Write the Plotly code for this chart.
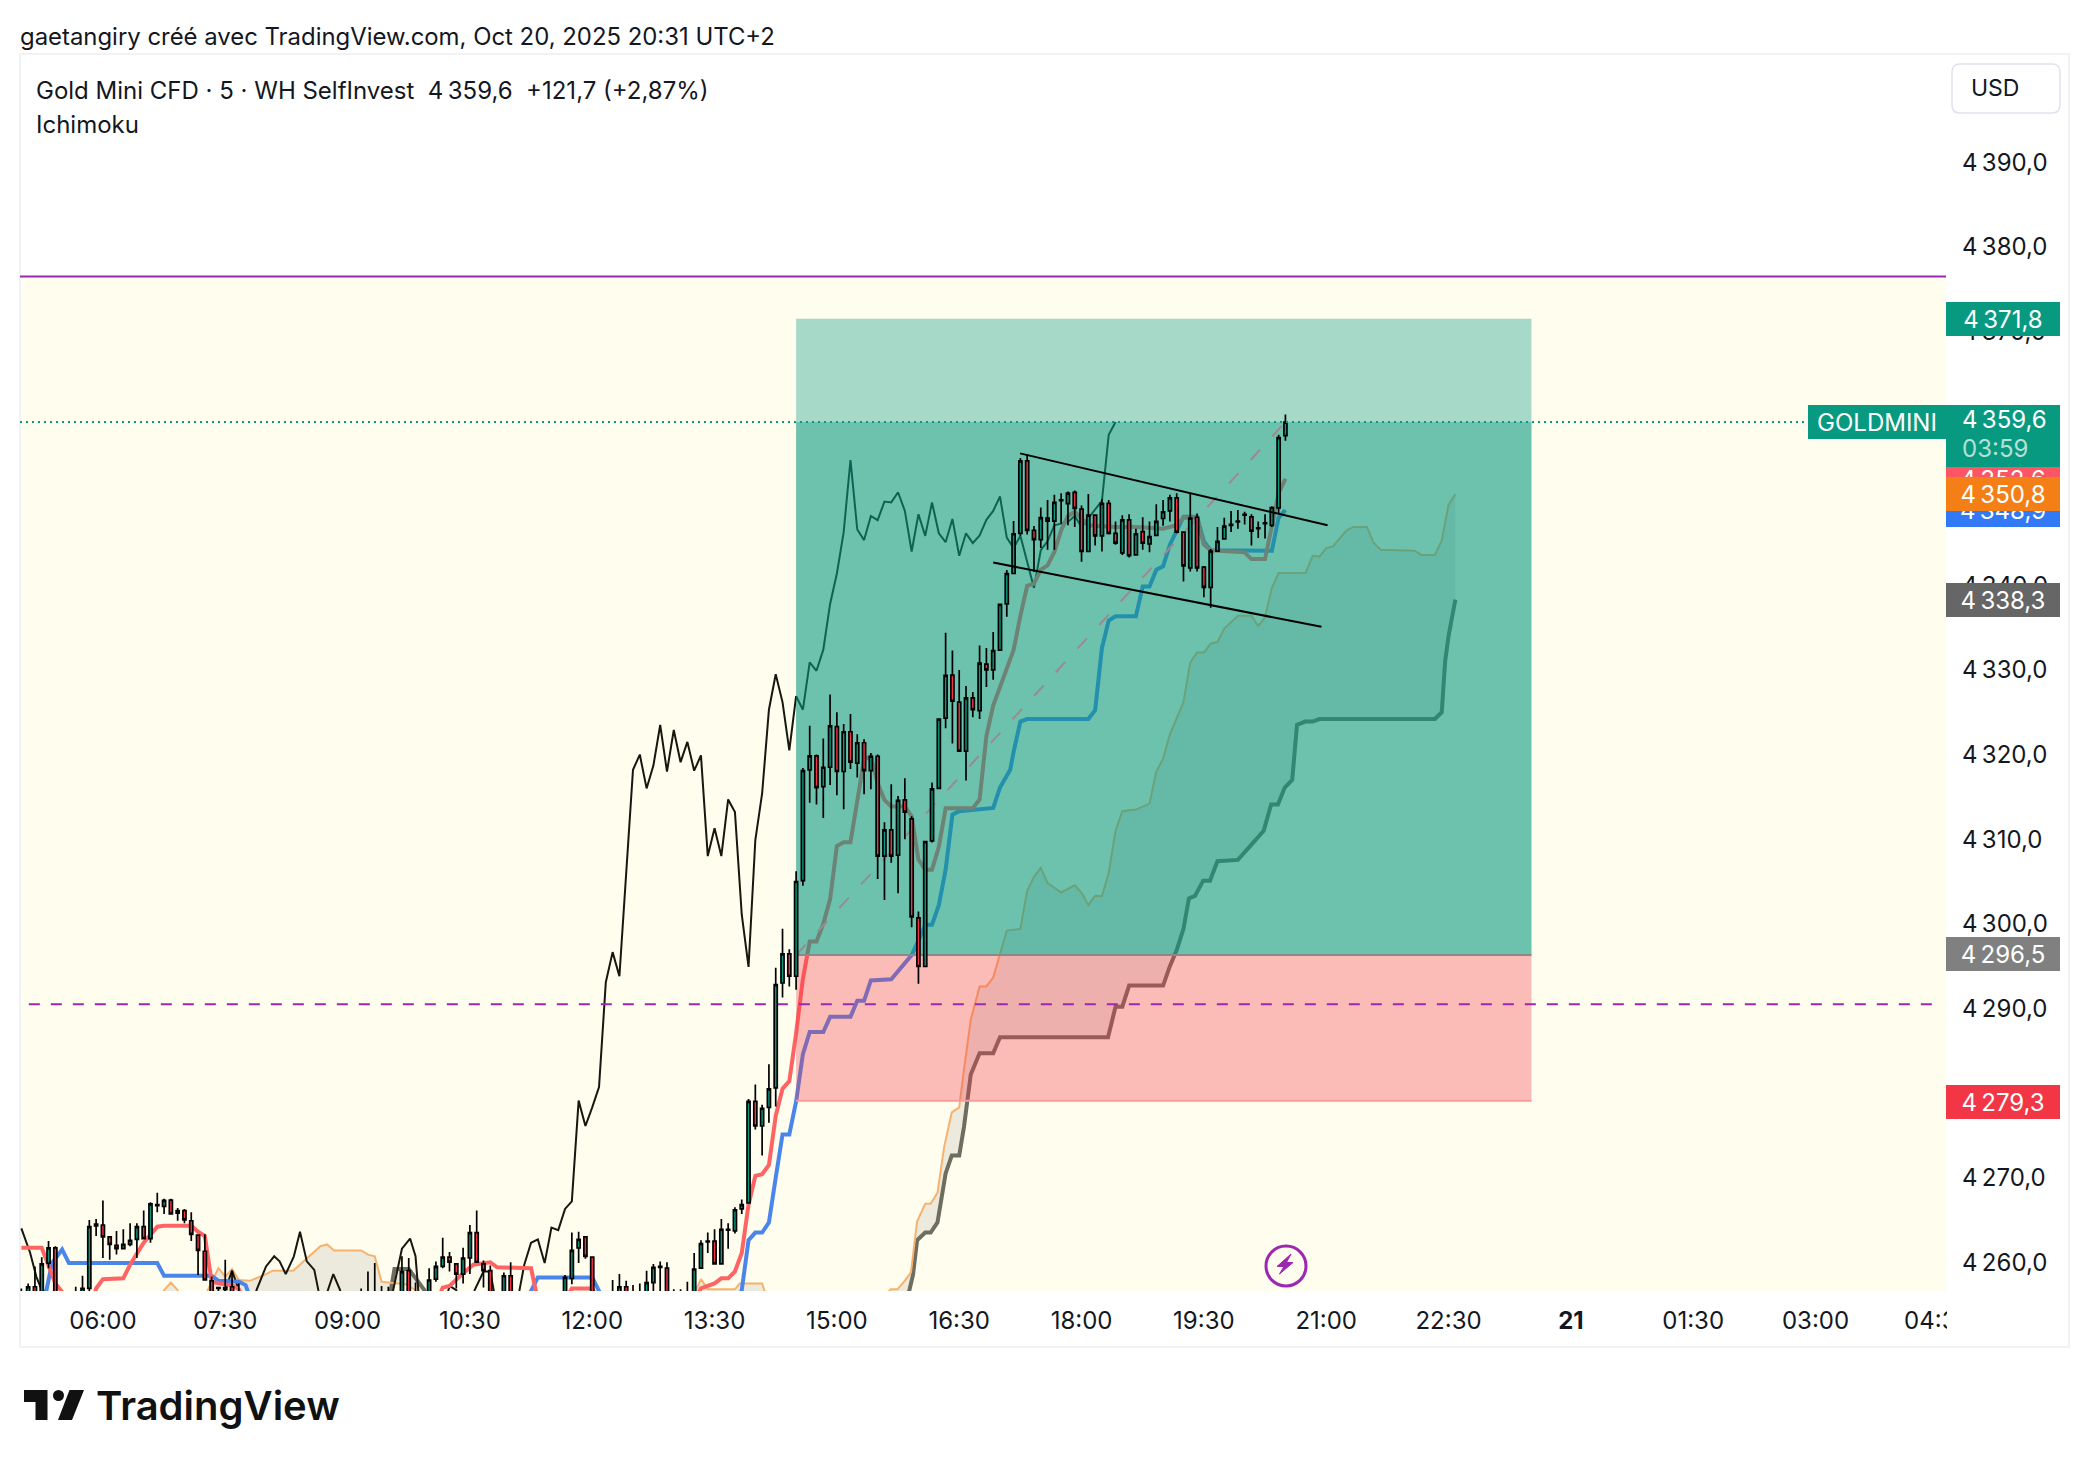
import pandas as pd
import plotly.graph_objects as go

BASE = pd.Timestamp("2025-10-20 06:00")
def t(i):
    return BASE + pd.to_timedelta(i * 5, "min")

first_bar = -12
opens = [4255.5,4254.0,4257.1,4254.0,4259.9,4261.7,4254.5,4255.0,4255.5,4256.0,4256.9,4264.3,
 4264.4,4263.0,4262.0,4261.6,4262.1,4262.7,4264.2,4262.8,4266.7,4266.6,
 4267.35,4265.8,4266.1,4264.9,4263.2,4261.3,4257.8,4256.9,4256.8,4257.1,
 4256.0,4255.0,4254.5,4254.0,4253.5,4254.2,4254.8,4254.3,4253.8,4254.5,
 4255.0,4254.4,4254.0,4254.6,4255.1,4254.6,4255.0,4254.8,4255.2,4255.6,
 4255.2,4255.7,4255.3,4255.8,4255.0,4259.0,4255.0,4255.6,4256.0,4258.0,
 4259.5,4260.6,4259.8,4258.6,4260.5,4263.5,4259.8,4259.0,4255.5,4255.0,
 4258.4,4255.0,4254.5,4254.0,4254.6,4255.0,4254.5,4255.1,4255.0,4258.1,
 4261.7,4263.0,4260.6,4255.5,4255.0,4255.0,4255.0,4257.1,4255.0,4255.5,
 4255.0,4257.6,4259.4,4259.3,4255.5,4255.0,4255.4,4256.0,4259.3,4262.4,
 4262.5,4259.8,4263.8,4263.7,4266.3,4267.0,4279.0,4276.1,4278.3,4280.6,
 4293.0,4296.45,4293.8,4305.1,4318.2,4319.85,4316.2,4318.5,4323.3,4318.0,
 4322.7,4319.0,4321.4,4318.1,4319.8,4308.0,4311.1,4308.1,4314.65,4312.4,
 4300.7,4294.95,4309.8,4316.0,4324.3,4329.4,4326.2,4320.4,4326.7,4325.2,
 4330.7,4330.0,4332.35,4337.8,4341.4,4346.15,4354.7,4346.5,4345.4,4347.95,
 4347.6,4350.0,4349.65,4351.0,4349.0,4344.0,4348.3,4345.85,4349.7,4346.15,
 4343.85,4347.75,4343.6,4346.35,4344.9,4345.9,4347.9,4348.8,4350.35,4346.3,
 4342.05,4348.05,4342.15,4339.75,4344.05,4345.5,4347.1,4347.5,4348.3,4348.1,
 4346.7,4347.3,4347.1,4349.15,4357.7]
highs = [4256.9,4257.5,4259.5,4260.6,4262.5,4261.9,4256.0,4256.4,4257.1,4258.4,4265.0,4265.1,
 4267.3,4263.1,4263.7,4263.9,4264.6,4264.6,4266.1,4267.1,4268.2,4267.5,
 4267.5,4266.4,4266.3,4265.9,4263.3,4263.3,4258.3,4257.1,4260.3,4259.0,
 4257.5,4255.9,4255.6,4255.2,4254.8,4255.4,4255.8,4255.5,4255.0,4255.7,
 4256.0,4255.6,4255.2,4255.9,4256.2,4255.7,4256.0,4256.1,4256.9,4258.9,
 4259.9,4257.2,4257.1,4256.5,4260.7,4260.5,4257.6,4256.4,4259.3,4260.1,
 4262.9,4261.2,4259.9,4261.7,4264.4,4266.1,4260.2,4259.6,4256.4,4258.8,
 4260.0,4256.0,4255.6,4255.4,4255.8,4256.1,4255.7,4256.3,4258.5,4263.5,
 4263.6,4263.1,4260.7,4256.3,4256.0,4257.9,4258.6,4257.8,4257.3,4257.5,
 4259.0,4259.8,4260.1,4260.0,4256.8,4256.8,4257.7,4261.1,4262.6,4263.5,
 4263.9,4265.1,4264.6,4266.5,4267.4,4279.3,4281.0,4278.6,4283.4,4294.8,
 4299.4,4297.0,4306.2,4318.4,4323.4,4320.0,4321.9,4327.1,4325.0,4323.6,
 4324.8,4322.4,4321.8,4320.2,4320.0,4312.0,4316.5,4315.1,4317.2,4312.7,
 4301.45,4309.7,4316.7,4324.2,4334.4,4332.3,4330.0,4328.1,4327.4,4332.9,
 4332.6,4334.5,4337.75,4341.8,4347.6,4355.05,4355.5,4347.0,4349.2,4350.1,
 4350.7,4350.9,4351.1,4351.2,4349.45,4350.8,4348.3,4350.2,4350.1,4347.55,
 4348.3,4348.4,4346.7,4348.05,4347.55,4349.6,4350.1,4350.7,4350.9,4346.4,
 4350.8,4348.5,4342.3,4344.3,4346.9,4348.0,4348.8,4348.9,4348.7,4348.4,
 4347.55,4348.4,4349.35,4357.8,4360.2]
lows = [4254.0,4253.0,4253.0,4253.5,4259.3,4254.0,4253.0,4253.5,4254.0,4255.0,4256.5,4263.1,
 4260.5,4260.3,4260.9,4261.6,4261.9,4260.5,4262.7,4262.3,4265.9,4265.7,
 4265.7,4264.9,4264.6,4262.5,4258.5,4257.9,4255.0,4255.0,4255.0,4255.0,
 4254.0,4253.5,4253.2,4252.8,4252.5,4253.4,4253.8,4253.2,4252.7,4253.6,
 4254.0,4253.4,4253.0,4253.8,4254.2,4253.6,4254.1,4254.0,4254.4,4254.8,
 4254.5,4254.8,4254.5,4254.9,4254.5,4254.6,4254.2,4254.8,4255.2,4257.7,
 4259.3,4258.9,4256.9,4257.5,4258.6,4259.9,4257.0,4254.0,4254.4,4254.2,
 4254.0,4254.0,4253.5,4253.0,4253.6,4254.0,4253.4,4254.2,4254.0,4257.4,
 4259.9,4260.4,4254.5,4254.5,4254.0,4254.3,4254.5,4254.5,4254.2,4254.5,
 4254.4,4255.5,4256.0,4254.5,4254.5,4254.2,4254.6,4255.0,4259.2,4261.1,
 4259.8,4259.8,4261.6,4263.4,4265.7,4267.0,4275.7,4272.6,4276.5,4278.4,
 4291.3,4292.6,4292.2,4304.5,4314.3,4314.1,4312.5,4316.4,4315.2,4313.55,
 4318.3,4317.3,4315.3,4315.9,4305.3,4302.8,4307.2,4303.6,4310.0,4299.6,
 4292.9,4294.95,4309.6,4316.0,4323.1,4321.3,4320.3,4316.95,4324.4,4324.2,
 4328.0,4328.85,4332.35,4336.3,4341.4,4345.85,4346.0,4341.6,4344.4,4344.2,
 4344.2,4347.3,4347.1,4346.9,4342.8,4344.0,4344.7,4344.0,4346.0,4344.8,
 4343.6,4343.3,4343.5,4344.2,4343.9,4345.85,4347.05,4347.55,4346.15,4340.45,
 4341.65,4341.65,4338.6,4337.35,4344.0,4345.5,4346.3,4346.7,4347.2,4344.7,
 4345.6,4345.55,4346.9,4348.5,4357.1]
closes = [4255.0,4257.1,4254.5,4259.8,4261.7,4255.5,4255.0,4255.5,4256.0,4256.9,4264.2,4264.5,
 4263.0,4262.1,4261.6,4262.1,4262.6,4264.2,4262.8,4266.9,4266.8,4267.3,
 4265.7,4266.1,4265.0,4263.3,4261.4,4257.9,4255.5,4257.0,4257.0,4256.0,
 4255.5,4254.5,4254.0,4253.5,4254.2,4254.8,4254.3,4253.8,4254.5,4255.0,
 4254.4,4254.0,4254.6,4255.1,4254.6,4255.0,4254.8,4255.2,4255.6,4255.2,
 4255.7,4255.3,4255.8,4255.4,4258.9,4255.0,4255.6,4255.9,4257.9,4259.5,
 4260.6,4260.0,4258.6,4260.5,4263.5,4260.0,4259.0,4255.5,4255.0,4258.4,
 4255.0,4254.5,4254.0,4254.6,4255.0,4254.5,4255.1,4255.0,4258.2,4261.4,
 4262.7,4260.7,4255.5,4255.0,4255.4,4255.5,4257.1,4255.0,4255.5,4255.0,
 4257.6,4259.4,4259.5,4255.5,4255.0,4255.4,4256.0,4259.2,4262.2,4262.5,
 4259.8,4263.9,4263.9,4266.2,4266.8,4279.0,4276.1,4278.2,4280.5,4292.8,
 4296.45,4293.8,4305.0,4318.1,4319.85,4316.1,4318.5,4323.4,4318.0,4322.7,
 4319.1,4321.4,4318.1,4319.8,4308.0,4311.1,4308.0,4314.6,4313.2,4300.8,
 4294.95,4309.7,4315.95,4324.2,4329.35,4326.3,4320.4,4326.7,4325.3,4330.8,
 4330.0,4332.3,4337.75,4341.4,4346.1,4354.7,4346.5,4345.4,4348.0,4347.6,
 4349.8,4350.1,4350.9,4349.1,4344.0,4348.3,4345.85,4349.7,4346.15,4345.0,
 4347.75,4343.5,4346.1,4345.0,4345.75,4347.55,4348.7,4350.35,4346.3,4342.3,
 4347.95,4342.05,4339.75,4344.05,4345.2,4347.0,4347.2,4347.6,4348.4,4346.4,
 4346.8,4347.4,4349.2,4357.45,4359.3]
bar_idx = [first_bar + k for k in range(len(opens))]

tenkan_idx = [-12,-9,-8,-7,-5,-1.5,-1,0,3,4,6,8,9,13,14,15,16,17,19,20,21,49,50,51,53,54.5,57,58,63,64,68,69,72,73,87,88,90,91,92,93,94,95,96,97,98,99,100,101,102,103,104,105,106,107,108,109,110,111,112,113,114,115,116,118,119,120,121,122,123,124,128,129,130,131,132,134,135,136,137,138,139,140,141,142,143,145,149,152,156,158,159,161,162,163,168,169,171,172,173,174]
tenkan_val = [4261.7,4261.7,4259.6,4257.5,4255.5,4255.5,4256.9,4258.0,4258.1,4259.7,4262.3,4264.2,4264.3,4264.3,4263.6,4263.1,4257.7,4257.5,4257.3,4256.8,4255,4255,4257,4257.2,4258.7,4259.7,4260,4259.4,4259.3,4255.5,4255.5,4256.9,4256.9,4255.5,4255.5,4256.9,4257.5,4258.1,4258.1,4258.9,4261.1,4266.8,4270.2,4270.4,4271.5,4277.3,4280.5,4281.4,4287.1,4293.5,4297.9,4297.9,4300,4302.9,4309.2,4309.65,4309.65,4314.65,4319.4,4319.8,4316.6,4314.65,4313.85,4313.85,4312.7,4307.6,4306.4,4306.4,4309.1,4313.65,4313.65,4314.7,4322.2,4325.8,4328.1,4332.35,4336.4,4339.95,4340.2,4341.85,4342.35,4343.95,4346.5,4348.2,4348.7,4347.1,4346.9,4346.9,4346.7,4347.1,4348,4348,4344.8,4344.15,4343.9,4343.1,4343.1,4346.9,4350.9,4352.6]

kijun_idx = [-12,-8.3,-7.5,-6,-5,8,9,16,17,20,21,22,62,63,64,72,73,74,93,94,95,96,97,98,99,100,101,102,103,104,106,107,110,111,112,113,116,119,120,121,122,123,124,125,126,128,131,132,133.5,134,135,136,145,146,147,148,149,152,153,154,155,156,157,159,161,162,163,172,173,174]
kijun_val = [4254,4256.7,4259.9,4261.5,4259.9,4259.9,4258.4,4258.4,4257.8,4257.7,4257.3,4255,4255,4256.7,4258.2,4258.2,4256.7,4255,4255,4256.7,4262.6,4263.5,4263.5,4264.7,4270,4275.1,4275.1,4279,4284.6,4287.2,4287.2,4289,4289,4290.9,4290.9,4293.3,4293.45,4296.3,4298,4299.9,4299.9,4302.2,4306.4,4312.9,4313.3,4313.5,4313.7,4316.1,4318.2,4320.3,4323.9,4324.2,4324.2,4325.25,4332.6,4335.85,4336.35,4336.35,4339.85,4339.85,4341.85,4342.25,4344.8,4348.1,4348.1,4345.2,4344.15,4344.1,4348,4348.9]

span_a_idx = [-12,8.5,9,10,11,12,15,16,17,18,19,20,21.6,23.5,25,28,30,32,33,34,38,39,40,41,42,44.5,46,47,86,87.3,88,89,93,93.7,97,98,114,115.9,116.9,117.9,118.9,119.8,121,121.8,122.8,123.8,124.9,126,126.7,127.7,129,130,131,132,133,135,136,137,138,139,141,143,144,145,146,147,148,149,150,152,154,155,156,157,159,160,161,162,163,164,165,167,169,170,171,172,173,177,178,179,180,181,183,184,186,187,188,193,194,196,197,198,199]
span_a_val = [4254,4254,4256.7,4257.6,4256.7,4254.5,4256,4257.7,4259.3,4258.3,4259.2,4257.9,4257.8,4258.4,4259,4259,4260.5,4261.9,4262.1,4261.4,4261.4,4260.9,4260.7,4257.7,4257.6,4257.4,4256.7,4255,4255,4256.8,4258,4256.8,4256.8,4257.5,4257.5,4255,4255,4256.8,4256.8,4257.7,4258.8,4264.8,4266.9,4266.9,4268.2,4273.7,4277.7,4278.3,4282.75,4288.65,4292.6,4292.6,4293.65,4296.3,4299.2,4299.4,4303.9,4305.55,4306.6,4304.8,4303.7,4304.55,4303.65,4302.2,4303.3,4303.25,4306,4311,4313.3,4313.5,4314.2,4318,4319.5,4322.4,4326.2,4330.9,4332.05,4332.05,4333.1,4333.3,4334.9,4336.4,4336.4,4335.2,4336.2,4339.7,4341.45,4341.5,4343.5,4343.4,4344.4,4344.6,4346.5,4346.9,4346.9,4345,4344.2,4344.1,4343.6,4343.6,4345.3,4349.5,4350.8]

span_b_idx = [-12,41.5,42,42.9,45,46,47.3,48,117.9,118.7,119.2,119.8,121,121.8,122.8,124,124.9,126,126.7,127.7,129,131,132,147.9,149,150,151,156,157,158,159,159.8,160.7,161.9,162.9,164,167,169,170.8,171.9,172.9,173.9,175,175.7,176.9,178,179,196,197,197.5,198,199]
span_b_val = [4252,4252,4255,4259.2,4259.2,4258.1,4256.7,4254,4254,4256.8,4258.5,4262.6,4263.5,4263.5,4264.7,4270.5,4272.6,4272.6,4276,4282.2,4284.7,4284.7,4286.6,4286.6,4290.2,4290.2,4292.7,4292.7,4295,4296.9,4299.4,4303,4303.3,4305.1,4305.1,4307.4,4307.55,4309.35,4311,4314.1,4314.1,4316.1,4317,4323.5,4323.9,4323.9,4324.2,4324.2,4325,4331,4334,4338.3]

lagging_idx = [-12,-10.7,-9.8,-9,-8,17.5,18,19,20,20.5,22,22.6,24,25.2,26,26.9,28.1,29,30,31.1,31.7,32.5,33.1,33.9,34.9,35.5,42,42.7,44,45.2,46,46.4,47,50,51,52,52.5,54.2,54.7,56,57,57.5,58,60.5,61.3,62,63,64,65,66,67,68,69,70,71,72,73,74,75,76,77,78,79,80,81,82,83,84,85,86,87,88,89,90,91,92,93,94,95,96,97,98,99,100,101,102,103,104,105,106,107,108,109,110,111,112,113,114,115,116,117,118,119,120,121,122,123,124,125,126,127,128,129,130,131,132,133,134,135,137,138,139,140,142,143,144,147,148,149]
lagging_val = [4264,4261.1,4258.3,4256.7,4254,4254,4256.7,4259,4256.7,4254,4254,4256.7,4259.5,4260.7,4260.1,4258.6,4260.7,4263.6,4260.1,4259.1,4256.7,4254,4256.7,4258.6,4256.7,4254,4254,4256.7,4261.6,4262.8,4260.7,4256.7,4254,4254,4257.2,4256.7,4254,4254,4256.7,4258.9,4258.9,4256.7,4254,4254,4256.7,4259.7,4262.3,4262.7,4259.9,4264.1,4263.8,4266.3,4267.2,4279.1,4276.1,4278.3,4280.7,4293.1,4296.65,4293.8,4306.6,4318.2,4320,4316,4318.7,4323.5,4318,4322.9,4319.1,4321.5,4318.1,4319.9,4308,4311.3,4308,4314.7,4313.2,4301.1,4294.9,4309.9,4315.4,4325.3,4329.5,4326.2,4320.5,4326.9,4325.3,4330.9,4329.9,4332.4,4337.8,4341.4,4346.3,4354.8,4346.6,4345.35,4348.2,4347.7,4349.9,4349.8,4351,4348.8,4344,4348.4,4345.85,4349.8,4346.15,4345.1,4347.85,4343.5,4346.15,4345,4345.9,4347.75,4348.8,4350.5,4345.65,4344.4,4345.85,4339.7,4344.15,4345.2,4347.1,4347.5,4348.2,4346.9,4350,4357.8,4359.3]

# levels
entry_price, target_price, stop_price, last_price = 4296.3, 4371.5, 4279.1, 4359.3
price_labels = dict(entry="4\u2009296,5", target="4\u2009371,8", stop="4\u2009279,3", last="4\u2009359,6")
tool_idx = [102, 210.2]
resistance_price, support_price = 4376.5, 4290.5
upper_trend_idx, upper_trend_val = [134.95, 180.2], [4355.6, 4347.1]
lower_trend_idx, lower_trend_val = [131.0, 179.3], [4342.7, 4335.1]
y_ticks = list(range(4260, 4400, 10))
hidden_y_labels = [4280, 4360, 4350]
x_tick_steps = list(range(0, 16))
x_tick_labels = ["06:00","07:30","09:00","10:30","12:00","13:30","15:00","16:30","18:00","19:30","21:00","22:30","<b>21</b>","01:30","03:00","04:30"]
Y_RANGE = [4256.6, 4402.8]
X_RANGE = [t(-12.2), t(271.2)]

FONT = "Inter"
INK = "#131722"
TH = "\u2009"
GREEN, RED = "#089981", "#f23645"
FS = 24

L, R, T, B = 20, 1946, 54, 1291
PX = lambda x: (x - L) / (R - L)
PY = lambda y: (B - y) / (B - T)
fy = lambda p: f"{p:,.1f}".replace(",", TH).replace(".", ",")

def xs(seq):
    return [t(i) for i in seq]

fig = go.Figure()

# Ichimoku cloud and lines sit under the position tool
fig.add_trace(go.Scatter(x=xs(span_b_idx), y=span_b_val, mode="lines", line=dict(color="#6d6d60", width=4)))
fig.add_trace(go.Scatter(x=xs(span_a_idx), y=span_a_val, mode="lines", line=dict(color="#f7b26e", width=2),
                         fill="tonexty", fillcolor="rgba(67,70,81,0.10)"))
fig.add_trace(go.Scatter(x=xs(lagging_idx), y=lagging_val, mode="lines", line=dict(color="#17170f", width=2)))
fig.add_trace(go.Scatter(x=xs(kijun_idx), y=kijun_val, mode="lines", line=dict(color="#4a86ea", width=4)))
fig.add_trace(go.Scatter(x=xs(tenkan_idx), y=tenkan_val, mode="lines", line=dict(color="#ff6464", width=4)))

def band(lo, hi, color, line=None):
    a, b = xs(tool_idx)
    fig.add_trace(go.Scatter(x=[a, b, b, a, a], y=[lo, lo, hi, hi, lo], mode="lines", fill="toself",
                             fillcolor=color, line=dict(width=0)))
band(entry_price, target_price, "rgba(8,153,129,0.36)")
band(entry_price, last_price, "rgba(8,153,129,0.36)")
band(stop_price, entry_price, "rgba(242,54,69,0.32)")
fig.add_trace(go.Scatter(x=xs(tool_idx), y=[stop_price]*2, mode="lines", line=dict(color="#fb9a9a", width=2)))
fig.add_trace(go.Scatter(x=xs(tool_idx), y=[entry_price]*2, mode="lines", line=dict(color="#8a8a8a", width=2)))
fig.add_trace(go.Scatter(x=xs([102, 174]), y=[entry_price, last_price], mode="lines",
                         line=dict(color="#9b8a8e", width=2, dash="14px,18px")))
fig.add_trace(go.Scatter(x=xs([-12.2, 271.2]), y=[resistance_price]*2, mode="lines", line=dict(color="#9c27b0", width=2)))
fig.add_trace(go.Scatter(x=xs([-10.9, 269.8]), y=[support_price]*2, mode="lines",
                         line=dict(color="#9c27b0", width=2, dash="11px,11px")))

# Candles and drawings on an overlaid pair of axes so they sit above the tool
fig.add_trace(go.Candlestick(x=xs(bar_idx), open=opens, high=highs, low=lows, close=closes,
                             xaxis="x2", yaxis="y2", whiskerwidth=0,
                             increasing=dict(line=dict(color="#000000", width=1.7), fillcolor=GREEN),
                             decreasing=dict(line=dict(color="#000000", width=1.7), fillcolor=RED)))
for ti, tv in ((upper_trend_idx, upper_trend_val), (lower_trend_idx, lower_trend_val)):
    fig.add_trace(go.Scatter(x=xs(ti), y=tv, mode="lines", xaxis="x2", yaxis="y2", line=dict(color="#000000", width=2)))
fig.add_trace(go.Scatter(x=[t(-12.2), t((1808-103)/6.795)], y=[last_price]*2, mode="lines", xaxis="x2", yaxis="y2",
                         line=dict(color=GREEN, width=2, dash="2px,4px")))

shapes = [
    dict(type="rect", xref="paper", yref="y", x0=0, x1=1, y0=Y_RANGE[0], y1=resistance_price,
         fillcolor="#fffdee", line_width=0, layer="below"),
    dict(type="rect", xref="paper", yref="paper", x0=PX(20), x1=PX(2069), y0=PY(1347), y1=PY(54),
         line=dict(color="#f1f2f5", width=2), layer="below"),
    dict(type="rect", xref="paper", yref="paper", x0=PX(1947), x1=PX(1972), y0=PY(1342), y1=PY(1296),
         fillcolor="#ffffff", line_width=0, layer="above"),
]
def poly(points):
    return "M" + "L".join(f"{PX(x):.5f},{PY(y):.5f}" for x, y in points) + "Z"
# USD box
x0, x1, y0, y1, r = 1952, 2060, 64, 113, 8
shapes.append(dict(type="path", xref="paper", yref="paper", layer="below", line=dict(color="#e0e3eb", width=1.5),
    path=f"M{PX(x0+r)},{PY(y0)}L{PX(x1-r)},{PY(y0)}Q{PX(x1)},{PY(y0)} {PX(x1)},{PY(y0+r)}L{PX(x1)},{PY(y1-r)}Q{PX(x1)},{PY(y1)} {PX(x1-r)},{PY(y1)}L{PX(x0+r)},{PY(y1)}Q{PX(x0)},{PY(y1)} {PX(x0)},{PY(y1-r)}L{PX(x0)},{PY(y0+r)}Q{PX(x0)},{PY(y0)} {PX(x0+r)},{PY(y0)}Z"))
# lightning badge
shapes.append(dict(type="circle", xref="paper", yref="paper", x0=PX(1266), x1=PX(1306), y0=PY(1286), y1=PY(1246),
                   line=dict(color="#9c27b0", width=3), fillcolor="rgba(0,0,0,0)"))
shapes.append(dict(type="path", xref="paper", yref="paper", fillcolor="#9c27b0", line=dict(color="#9c27b0", width=1),
                   path=poly([(1291,1254),(1277,1266.5),(1284,1266.5),(1279.5,1274),(1293,1262.5),(1286.5,1262.5)])))
# logo mark
INKD = "#111111"
shapes.append(dict(type="path", xref="paper", yref="paper", fillcolor=INKD, line_width=0,
                   path=poly([(24,1390),(47.5,1390),(47.5,1420),(35.5,1420),(35.5,1402),(24,1402)])))
shapes.append(dict(type="circle", xref="paper", yref="paper", x0=PX(53), x1=PX(64), y0=PY(1401), y1=PY(1390),
                   fillcolor=INKD, line_width=0))
shapes.append(dict(type="path", xref="paper", yref="paper", fillcolor=INKD, line_width=0,
                   path=poly([(69.5,1390),(84,1390),(72,1420),(58,1420)])))

ann = []
def text(x, y, s, size=FS, color=INK, anchor="left", **kw):
    ann.append(dict(xref="paper", yref="paper", x=PX(x), y=PY(y), text=s, showarrow=False, xanchor=anchor,
                    yanchor="middle", font=dict(family=FONT, size=size, color=color, **kw)))
def tag(price, color, width=114, height=34, label=None, left=1946, yshift=0):
    ann.append(dict(xref="paper", yref="y", x=PX(left), y=price, text=label if label else fy(price), showarrow=False,
                    xanchor="left", yanchor="middle", bgcolor=color, width=width, height=height, borderpad=0,
                    borderwidth=0, align="center", yshift=yshift, font=dict(family=FONT, size=FS, color="#ffffff")))

text(18, 36.5, "gaetangiry créé avec TradingView.com, Oct 20, 2025 20:31 UTC+2", size=23.9)
text(33.5, 90, f"Gold Mini CFD · 5 · WH SelfInvest  4{TH}359,6  +121,7 (+2,87%)")
text(33.5, 124, "Ichimoku")
text(1969, 88, "USD", size=23)
text(94, 1405, "TradingView", size=40, color=INKD, weight=600)

tag(target_price, GREEN, label=price_labels["target"])
tag(entry_price, "#808080", label=price_labels["entry"], yshift=1)
tag(stop_price, RED, label=price_labels["stop"], yshift=-1)
tag(4338.3, "#666666")
tag(4348.9, "#3179f5")
tag(4352.6, "#fc5563")
# current price: plain block, then its two text rows
ann.append(dict(xref="paper", yref="paper", x=PX(1946), y=PY(436), text=" ", showarrow=False, xanchor="left",
                yanchor="middle", bgcolor=GREEN, width=114, height=62, borderpad=0, borderwidth=0))
text(1960, 420, price_labels["last"], color="#ffffff")
text(1960, 448, "03:59", color="#b5e0d6")
tag(4350.8, "#f57f17")
tag(last_price, GREEN, width=138, label="GOLDMINI", left=1808)

fig.update_layout(
    width=2088, height=1466, autosize=False, showlegend=False,
    margin=dict(l=L, r=2088-R, t=T, b=1466-B),
    paper_bgcolor="#ffffff", plot_bgcolor="#ffffff", boxgap=0.35,
    font=dict(family=FONT, size=FS, color=INK),
    xaxis=dict(type="date", range=X_RANGE, showgrid=False, zeroline=False, showline=False, ticks="",
               tickmode="array", tickvals=[t(18*k) for k in x_tick_steps], ticktext=x_tick_labels,
               tickfont=dict(family=FONT, size=FS, color=INK), ticklabelstandoff=13, rangeslider=dict(visible=False)),
    xaxis2=dict(type="date", range=X_RANGE, overlaying="x", visible=False, rangeslider=dict(visible=False)),
    yaxis=dict(range=Y_RANGE, side="right", showgrid=False, zeroline=False, showline=False, ticks="",
               tickmode="array", tickvals=y_ticks, ticktext=["" if v in hidden_y_labels else fy(v) for v in y_ticks],
               tickfont=dict(family=FONT, size=FS, color=INK), ticklabelstandoff=15),
    yaxis2=dict(range=Y_RANGE, overlaying="y", visible=False),
    shapes=shapes, annotations=ann,
)
fig.write_html("out.html", config=dict(displayModeBar=False), post_script="document.body.style.margin='0';")
